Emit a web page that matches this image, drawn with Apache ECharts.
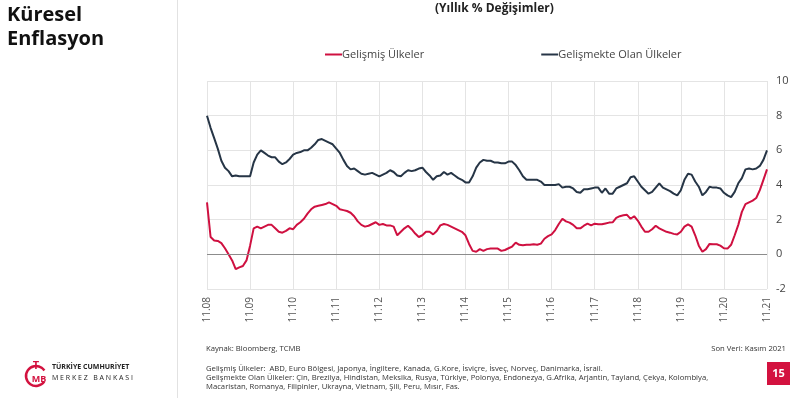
<!DOCTYPE html>
<html>
<head>
<meta charset="utf-8">
<script src="https://cdn.jsdelivr.net/npm/echarts@6/dist/echarts.min.js"></script>
<style>
html, body { margin: 0; padding: 0; background: #fff; }
#chart { width: 800px; height: 398px; }
</style>
</head>
<body>
<div id="chart"></div>
<script>
// aylık seri: 11.2008 - 11.2021
const months = [];
for (let y = 2008; y <= 2021; y++) {
  for (let m = 1; m <= 12; m++) {
    if ((y === 2008 && m < 11) || (y === 2021 && m > 11)) continue;
    months.push(String(m).padStart(2, '0') + '.' + String(y).slice(2));
  }
}

const gelismis = [
  3.0, 1.0, 0.8, 0.77, 0.65, 0.35, 0.0, -0.35, -0.85, -0.75, -0.67, -0.35,
  0.5, 1.5, 1.6, 1.5, 1.6, 1.7, 1.7, 1.5, 1.3, 1.25, 1.35, 1.5,
  1.45, 1.7, 1.85, 2.05, 2.35, 2.6, 2.75, 2.8, 2.85, 2.9, 3.0, 2.9,
  2.8, 2.6, 2.55, 2.5, 2.4, 2.2, 1.9, 1.7, 1.6, 1.65, 1.75, 1.85,
  1.7, 1.75, 1.67, 1.67, 1.6, 1.1, 1.3, 1.5, 1.65, 1.45, 1.2, 1.0,
  1.1, 1.3, 1.3, 1.15, 1.35, 1.67, 1.75, 1.7, 1.6, 1.5, 1.4, 1.3,
  1.1, 0.6, 0.2, 0.15, 0.3, 0.2, 0.3, 0.33, 0.33, 0.33, 0.2, 0.25,
  0.35, 0.45, 0.68, 0.55, 0.52, 0.55, 0.55, 0.58, 0.55, 0.62, 0.9, 1.05,
  1.15, 1.4, 1.75, 2.05, 1.9, 1.83, 1.7, 1.5, 1.5, 1.65, 1.77, 1.67,
  1.77, 1.73, 1.73, 1.78, 1.83, 1.85, 2.1, 2.2, 2.25, 2.28, 2.05, 2.2,
  1.95, 1.6, 1.3, 1.3, 1.45, 1.65, 1.5, 1.4, 1.3, 1.25, 1.18, 1.15,
  1.3, 1.6, 1.73, 1.6, 1.1, 0.5, 0.15, 0.3, 0.6, 0.58, 0.58, 0.5,
  0.35, 0.33, 0.55, 1.1, 1.7, 2.45, 2.9, 3.0, 3.1, 3.25, 3.7, 4.3,
  4.9
];

const gelismekte = [
  8.0, 7.3, 6.7, 6.1, 5.4, 5.0, 4.8, 4.5, 4.55, 4.5, 4.5, 4.5,
  4.5, 5.3, 5.75, 6.0, 5.85, 5.7, 5.6, 5.6, 5.35, 5.2, 5.3, 5.5,
  5.75, 5.85, 5.9, 6.0, 6.0, 6.15, 6.35, 6.6, 6.65, 6.55, 6.45, 6.35,
  6.1, 5.85, 5.45, 5.1, 4.9, 4.95, 4.8, 4.65, 4.6, 4.65, 4.7, 4.6,
  4.5, 4.6, 4.7, 4.85, 4.75, 4.55, 4.5, 4.7, 4.85, 4.8, 4.85, 4.95,
  5.0, 4.75, 4.55, 4.3, 4.5, 4.55, 4.75, 4.6, 4.7, 4.55, 4.4, 4.3,
  4.15, 4.15, 4.5, 5.0, 5.3, 5.45, 5.4, 5.4, 5.3, 5.3, 5.25, 5.25,
  5.35, 5.35, 5.15, 4.85, 4.5, 4.3, 4.3, 4.3, 4.3, 4.2, 4.0, 4.0,
  4.0, 4.0, 4.05, 3.85, 3.9, 3.9, 3.8, 3.6, 3.55, 3.75, 3.75, 3.8,
  3.85, 3.85, 3.55, 3.8, 3.5, 3.5, 3.8, 3.9, 4.0, 4.1, 4.45, 4.5,
  4.2, 3.9, 3.7, 3.5, 3.6, 3.85, 4.1, 3.85, 3.75, 3.65, 3.5, 3.4,
  3.7, 4.3, 4.65, 4.6, 4.2, 3.9, 3.4, 3.6, 3.9, 3.85, 3.85, 3.8,
  3.55, 3.4, 3.3, 3.6, 4.1, 4.4, 4.9, 4.95, 4.9, 4.95, 5.1, 5.45,
  6.0
];

const seriesNames = ['Gelişmiş Ülkeler', 'Gelişmekte Olan Ülkeler'];
const yTicks = { min: -2, max: 10, step: 2 };

const footGelismis = 'Gelişmiş Ülkeler:  ABD, Euro Bölgesi, Japonya, İngiltere, Kanada, G.Kore, İsviçre, İsveç, Norveç, Danimarka, İsrail.';
const footGelismekte1 = 'Gelişmekte Olan Ülkeler: Çin, Brezilya, Hindistan, Meksika, Rusya, Türkiye, Polonya, Endonezya, G.Afrika, Arjantin, Tayland, Çekya, Kolombiya,';
const footGelismekte2 = 'Macaristan, Romanya, Filipinler, Ukrayna, Vietnam, Şili, Peru, Mısır, Fas.';

const chart = echarts.init(document.getElementById('chart'));
const font = 'Open Sans';
const small = '7.7px "Open Sans"';

const option = {
  animation: false,
  textStyle: { fontFamily: font },
  title: [
    {
      text: 'Küresel\nEnflasyon',
      left: 7, top: 3, padding: 0,
      textStyle: { fontSize: 20, fontWeight: 'bold', color: '#111', lineHeight: 24, fontFamily: font }
    },
    {
      text: '(Yıllık % Değişimler)',
      left: 435, top: 3, padding: 0,
      textStyle: { fontSize: 12, fontWeight: 'bold', color: '#222', fontFamily: font }
    }
  ],
  legend: {
    top: 49, left: 325, padding: 0,
    itemGap: 117,
    icon: 'rect', itemWidth: 17, itemHeight: 2,
    textStyle: { fontSize: 11, color: '#444', fontFamily: font, padding: [0, 0, 0, -5] },
    data: seriesNames
  },
  grid: { left: 207, right: 33, top: 81, bottom: 109 },
  xAxis: {
    type: 'category',
    boundaryGap: false,
    data: months,
    axisLine: { show: false },
    axisTick: { show: false },
    axisLabel: { interval: 11, rotate: 90, color: '#555', fontSize: 10, margin: 8 },
    splitLine: { show: true, interval: 11, lineStyle: { color: '#e4e4e4' } }
  },
  yAxis: {
    type: 'value',
    position: 'right',
    min: yTicks.min, max: yTicks.max, interval: yTicks.step,
    axisLine: { show: false },
    axisTick: { show: false },
    axisLabel: { color: '#444', fontSize: 11, margin: 9 },
    splitLine: { lineStyle: { color: '#e4e4e4' } }
  },
  series: [
    {
      name: seriesNames[0], type: 'line', data: gelismis,
      showSymbol: false, symbol: 'none',
      lineStyle: { color: '#cf1040', width: 2 },
      itemStyle: { color: '#cf1040' },
      z: 3,
      markLine: {
        silent: true, symbol: 'none',
        label: { show: false },
        lineStyle: { color: '#8c8c8c', type: 'solid', width: 1 },
        data: [{ yAxis: 0 }]
      }
    },
    {
      name: seriesNames[1], type: 'line', data: gelismekte,
      showSymbol: false, symbol: 'none',
      lineStyle: { color: '#263546', width: 2 },
      itemStyle: { color: '#263546' },
      z: 3
    }
  ],
  graphic: [
    { type: 'line', shape: { x1: 177.5, y1: 0, x2: 177.5, y2: 398 }, style: { stroke: '#e2e2e2', lineWidth: 1 } },
    { type: 'text', left: 206, top: 345, style: { text: 'Kaynak: Bloomberg, TCMB', font: small, fill: '#333' } },
    { type: 'text', right: 14, top: 345, style: { text: 'Son Veri: Kasım 2021', font: small, fill: '#333' } },
    { type: 'text', left: 206, top: 365, style: { text: footGelismis, font: small, fill: '#333' } },
    { type: 'text', left: 206, top: 374, style: { text: footGelismekte1, font: small, fill: '#333' } },
    { type: 'text', left: 206, top: 383, style: { text: footGelismekte2, font: small, fill: '#333' } },
    { type: 'rect', shape: { x: 767, y: 362, width: 23, height: 23 }, style: { fill: '#d3123f' } },
    { type: 'text', x: 778.5, y: 373.5, style: { text: '15', font: 'bold 11px "Open Sans"', fill: '#fff', align: 'center', verticalAlign: 'middle' } },
    // logo
    { type: 'arc', shape: { cx: 36, cy: 376, r: 10, startAngle: 0.6, endAngle: 5.7 }, style: { stroke: '#d3123f', lineWidth: 2.5, fill: 'none' } },
    { type: 'text', x: 36, y: 366, style: { text: 'T', font: 'bold 11px "Open Sans"', fill: '#d3123f', align: 'center', verticalAlign: 'middle' } },
    { type: 'text', x: 39, y: 379, style: { text: 'MB', font: 'bold 9px "Open Sans"', fill: '#d3123f', align: 'center', verticalAlign: 'middle' } },
    { type: 'text', left: 52, top: 363, style: { text: 'TÜRKİYE CUMHURİYET', font: 'bold 7px "Open Sans"', fill: '#222' } },
    { type: 'text', left: 52, top: 374, style: { text: 'M E R K E Z   B A N K A S I', font: '7px "Open Sans"', fill: '#222' } }
  ]
};

chart.setOption(option);
</script>
</body>
</html>
